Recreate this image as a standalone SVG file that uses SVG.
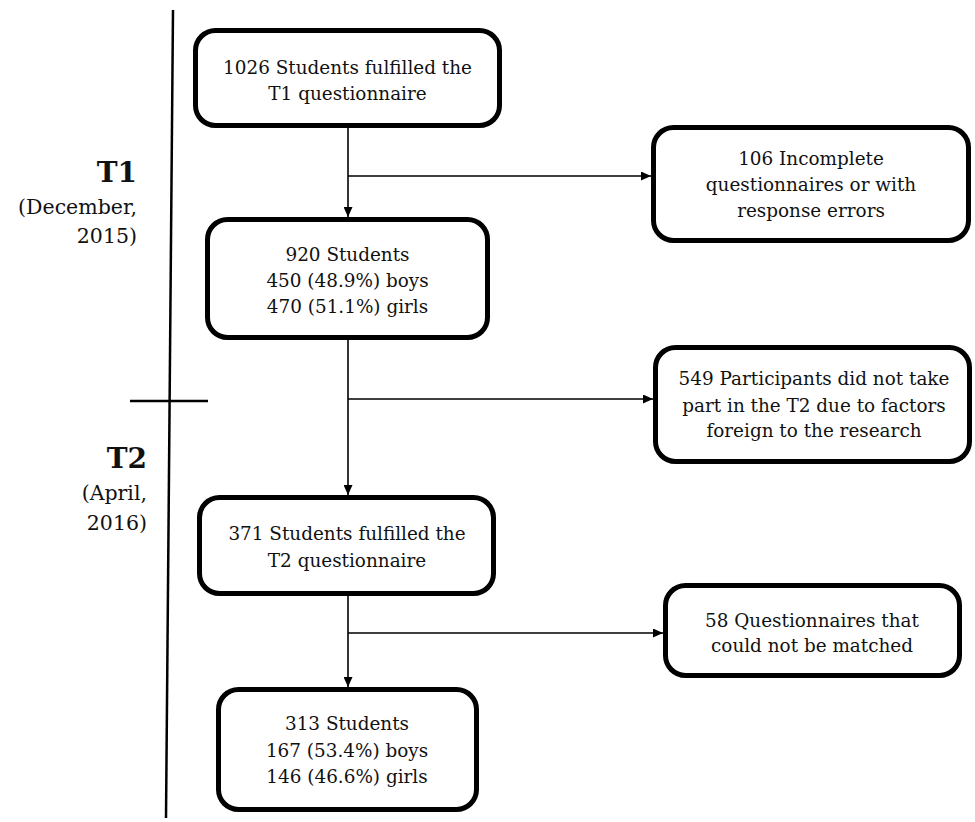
<svg xmlns="http://www.w3.org/2000/svg" width="975" height="822" viewBox="0 0 975 822">
<defs>
<style>
.box{fill:#fff;stroke:#000;stroke-width:5}
.t{font-family:"DejaVu Serif","Liberation Serif",serif;font-size:18.4px;fill:#111;text-anchor:middle}
.lab{font-family:"DejaVu Serif","Liberation Serif",serif;font-size:20.5px;fill:#111;text-anchor:end}
.big{font-family:"DejaVu Serif","Liberation Serif",serif;font-size:28px;font-weight:bold;fill:#111;text-anchor:end}
.c{fill:none;stroke:#000;stroke-width:1.6}
.axis{fill:none;stroke:#000;stroke-width:2.5}
</style>
<marker id="ah" markerUnits="userSpaceOnUse" markerWidth="11" markerHeight="9" refX="10" refY="4.5" orient="auto">
<path d="M0,0 L10,4.5 L0,9 z" fill="#000"/>
</marker>
</defs>
<rect width="975" height="822" fill="#fff"/>
<g id="timeline">
<line class="axis" x1="173" y1="10" x2="166" y2="818"/>
<line class="axis" x1="130" y1="401" x2="208" y2="401"/>
<text class="big" x="137" y="182">T1</text>
<text class="lab" x="137" y="214">(December,</text>
<text class="lab" x="137" y="243">2015)</text>
<text class="big" x="147" y="468">T2</text>
<text class="lab" x="147" y="500">(April,</text>
<text class="lab" x="147" y="530">2016)</text>
</g>
<g id="connectors">
<line class="c" x1="348" y1="128" x2="348" y2="217" marker-end="url(#ah)"/>
<line class="c" x1="348" y1="176" x2="651" y2="176" marker-end="url(#ah)"/>
<line class="c" x1="348" y1="340" x2="348" y2="495" marker-end="url(#ah)"/>
<line class="c" x1="348" y1="399" x2="653" y2="399" marker-end="url(#ah)"/>
<line class="c" x1="348" y1="596" x2="348" y2="687" marker-end="url(#ah)"/>
<line class="c" x1="348" y1="633" x2="663" y2="633" marker-end="url(#ah)"/>
</g>
<g id="n1">
<rect class="box" x="195.5" y="30.5" width="304" height="95" rx="20"/>
<text class="t" x="347.5" y="74">1026 Students fulfilled the</text>
<text class="t" x="347.5" y="100">T1 questionnaire</text>
</g>
<g id="n2">
<rect class="box" x="207.5" y="219.5" width="280" height="118" rx="20"/>
<text class="t" x="347.5" y="261">920 Students</text>
<text class="t" x="347.5" y="287">450 (48.9%) boys</text>
<text class="t" x="347.5" y="313">470 (51.1%) girls</text>
</g>
<g id="n3">
<rect class="box" x="199.5" y="497.5" width="294" height="96" rx="20"/>
<text class="t" x="347" y="540">371 Students fulfilled the</text>
<text class="t" x="347" y="567">T2 questionnaire</text>
</g>
<g id="n4">
<rect class="box" x="218.5" y="689.5" width="258" height="120" rx="20"/>
<text class="t" x="347" y="730">313 Students</text>
<text class="t" x="347" y="757">167 (53.4%) boys</text>
<text class="t" x="347" y="783">146 (46.6%) girls</text>
</g>
<g id="r1">
<rect class="box" x="653.5" y="127.5" width="315" height="113" rx="20"/>
<text class="t" x="811" y="165">106 Incomplete</text>
<text class="t" x="811" y="191">questionnaires or with</text>
<text class="t" x="811" y="217">response errors</text>
</g>
<g id="r2">
<rect class="box" x="655.5" y="347.5" width="314" height="114" rx="20"/>
<text class="t" x="814" y="385">549 Participants did not take</text>
<text class="t" x="814" y="412">part in the T2 due to factors</text>
<text class="t" x="814" y="437">foreign to the research</text>
</g>
<g id="r3">
<rect class="box" x="665.5" y="585.5" width="294" height="90" rx="20"/>
<text class="t" x="812" y="627">58 Questionnaires that</text>
<text class="t" x="812" y="652">could not be matched</text>
</g>
</svg>
